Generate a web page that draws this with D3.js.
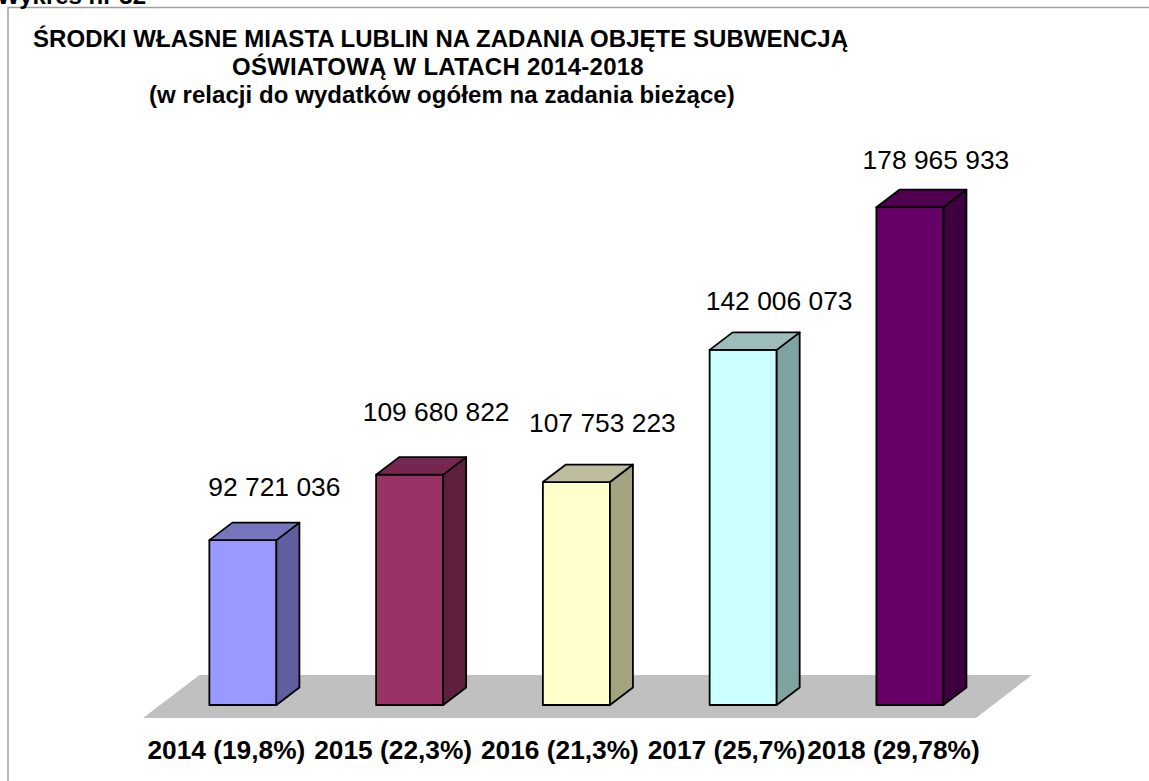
<!DOCTYPE html>
<html><head><meta charset="utf-8">
<script src="https://cdn.jsdelivr.net/npm/d3@7"></script>
<style>html,body{margin:0;padding:0;background:#fff;overflow:hidden}svg{display:block}text{font-family:"Liberation Sans",Arial,sans-serif}</style>
</head><body><svg id="c" width="1149" height="781"></svg>
<script>
const categories = ["2014 (19,8%)","2015 (22,3%)","2016 (21,3%)","2017 (25,7%)","2018 (29,78%)"];
const values = [92721036,109680822,107753223,142006073,178965933];
const valueLabels = ["92 721 036","109 680 822","107 753 223","142 006 073","178 965 933"];
const frontColors = ["#9999ff","#993366","#ffffcc","#ccffff","#660066"];
const sideColors = ["#5f5f9f","#5f2040","#a3a37f","#7fa3a3","#3f003f"];
const topColors = ["#7676bd","#76274f","#bdbd9d","#9dbdbd","#4f004f"];
const titleLines = [
  {t:"ŚRODKI WŁASNE MIASTA LUBLIN NA ZADANIA OBJĘTE SUBWENCJĄ", x:33, y:47, ls:0.04},
  {t:"OŚWIATOWĄ W LATACH 2014-2018", x:232, y:75, ls:0.25},
  {t:"(w relacji do wydatków ogółem na zadania bieżące)", x:149, y:103, ls:0.06}
];
const dx = 23, dy = 17.5;
const svg = d3.select("#c");
const x = d3.scaleBand().domain(categories).range([159.5,993.3]).paddingInner(0.598).paddingOuter(0.299);
const y = d3.scaleLinear().domain([50000000,200000000]).range([705,126]);
const y0 = y.range()[0], xL = x.range()[0], xR = x.range()[1];
const nudgeX = [31.5,26.5,26,36,26], nudgeY = [-44,-54,-50,-40,-38];

svg.append("path").attr("d","M8 781V7.5H1149").attr("fill","none").attr("stroke","#a0a0a0").attr("stroke-width",1.5);
svg.append("text").attr("x",-3).attr("y",4).attr("font-size",24).attr("font-weight","bold").text("Wykres nr 32");

svg.append("path").attr("fill","#c0c0c0").attr("d",d3.line()([
  [xL-16.5,y0+13],[xR-17.3,y0+13],[xR+38.7,y0-30],[xL+40,y0-30]
])+"Z");

const g = svg.selectAll("g.bar").data(values).join("g").attr("class","bar").attr("stroke","#000").attr("stroke-width",1.8).attr("stroke-linejoin","round");
g.append("rect").attr("x",(d,i)=>x(categories[i])).attr("y",d=>y(d)).attr("width",x.bandwidth()).attr("height",d=>y0-y(d)).attr("fill",(d,i)=>frontColors[i]);
g.append("path").attr("fill",(d,i)=>sideColors[i]).attr("d",(d,i)=>{const r=x(categories[i])+x.bandwidth();return d3.line()([[r,y(d)],[r+dx,y(d)-dy],[r+dx,y0-dy],[r,y0]])+"Z"});
g.append("path").attr("fill",(d,i)=>topColors[i]).attr("d",(d,i)=>{const l=x(categories[i]),r=l+x.bandwidth();return d3.line()([[l,y(d)],[l+dx,y(d)-dy],[r+dx,y(d)-dy],[r,y(d)]])+"Z"});

svg.selectAll("text.v").data(values).join("text").attr("class","v").attr("text-anchor","middle").attr("font-size",26.4).attr("fill","#000")
  .attr("x",(d,i)=>x(categories[i])+x.bandwidth()/2+nudgeX[i]).attr("y",(d,i)=>y(d)+nudgeY[i]).text((d,i)=>valueLabels[i]);

svg.selectAll("text.c").data(categories).join("text").attr("class","c").attr("text-anchor","middle").attr("font-size",26.3).attr("font-weight","bold").attr("fill","#000")
  .attr("x",d=>x(d)+x.bandwidth()/2-16.5).attr("y",759).text(d=>d);

svg.selectAll("text.t").data(titleLines).join("text").attr("class","t").attr("font-size",24).attr("font-weight","bold").attr("fill","#000")
  .attr("letter-spacing",d=>d.ls).attr("x",d=>d.x).attr("y",d=>d.y).text(d=>d.t);
</script></body></html>
